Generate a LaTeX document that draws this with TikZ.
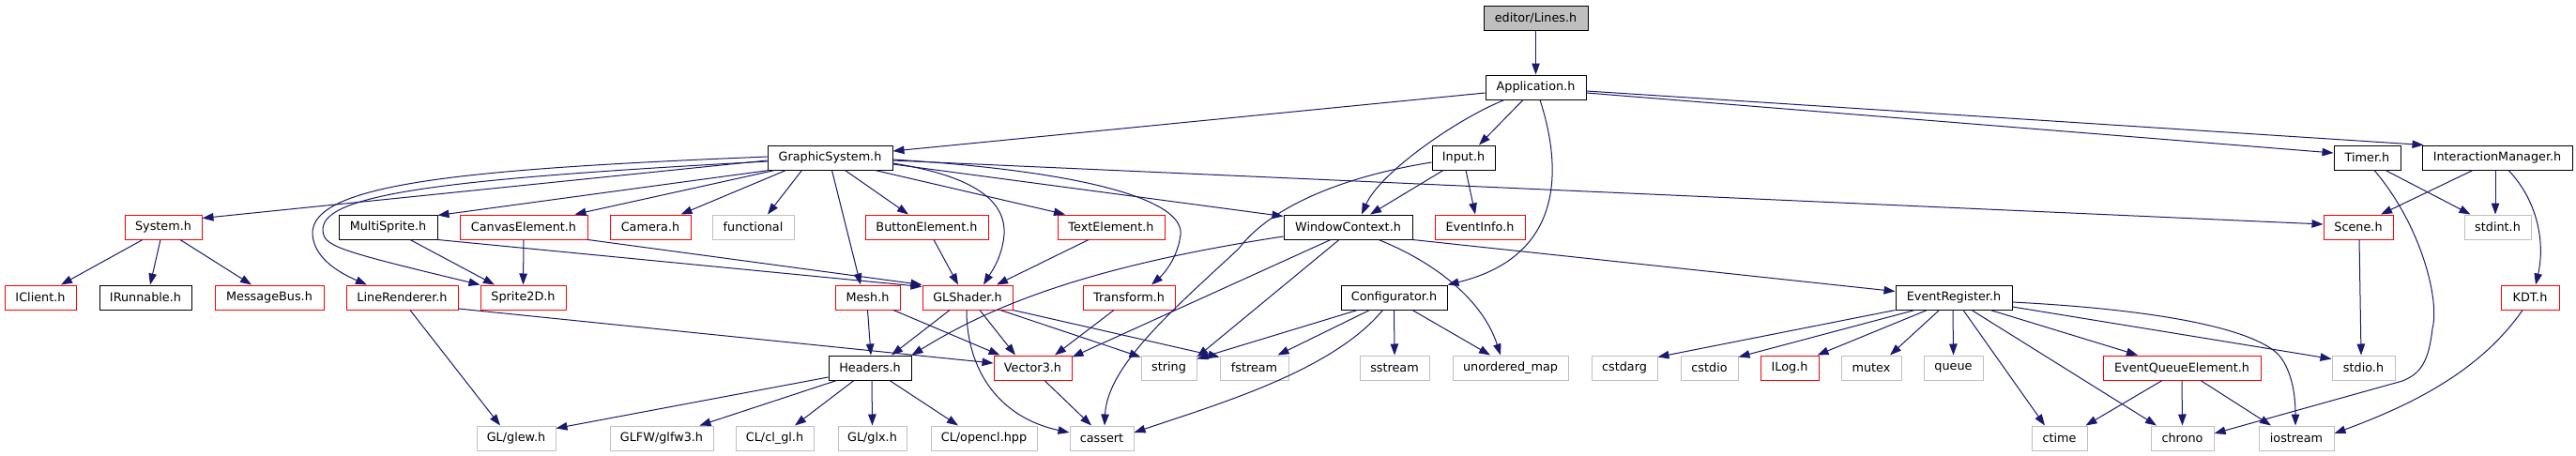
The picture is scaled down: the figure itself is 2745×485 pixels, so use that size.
\documentclass[tikz,border=0pt]{standalone}
\usepackage{fontspec}
\setmainfont{DejaVu Sans}
\usetikzlibrary{arrows.meta}
\definecolor{edgeblue}{HTML}{191970}
\definecolor{greyf}{HTML}{BFBFBF}
\begin{document}
\begin{tikzpicture}[x=1pt,y=-1pt,
  nd/.style={rectangle, draw, fill=white, inner sep=0pt, minimum height=26pt, line width=1pt,
             font=\fontsize{12.8}{14}\selectfont},
  nb/.style={nd, draw=black},
  nr/.style={nd, draw=red},
  ng/.style={nd, draw=greyf},
  ed/.style={draw=edgeblue, line width=1pt, -{Triangle[length=12pt,width=8.5pt]}, fill=none}]
\fill[white] (0,0) rectangle (2745,485);
\useasboundingbox (0,0) rectangle (2745,485);
% row 0
\node[nb, fill=greyf, minimum width=111pt] (lines) at (1636.5,19) {editor/Lines.h};
% row 1
\node[nb, minimum width=107pt] (app) at (1636.5,93) {Application.h};
% row 2
\node[nb, minimum width=133pt] (gs) at (884.5,168) {GraphicSystem.h};
\node[nb, minimum width=67pt] (input) at (1559.5,168) {Input.h};
\node[nb, minimum width=71pt] (timer) at (2522.5,168) {Timer.h};
\node[nb, minimum width=160pt] (im) at (2661,168) {InteractionManager.h};
% row 3
\node[nr, minimum width=82pt] (system) at (174,242) {System.h};
\node[nb, minimum width=105pt] (multisprite) at (413.5,242) {MultiSprite.h};
\node[nr, minimum width=136pt] (canvas) at (558,242) {CanvasElement.h};
\node[nr, minimum width=86pt] (camera) at (693,242) {Camera.h};
\node[ng, minimum width=87pt] (functional) at (802.5,242) {functional};
\node[nr, minimum width=131pt] (button) at (987.5,242) {ButtonElement.h};
\node[nr, minimum width=114pt] (text) at (1184,242) {TextElement.h};
\node[nb, minimum width=137pt] (wc) at (1436.5,242) {WindowContext.h};
\node[nr, minimum width=96pt] (eventinfo) at (1577,242) {EventInfo.h};
\node[nr, minimum width=74pt] (scene) at (2513,242) {Scene.h};
\node[ng, minimum width=71pt] (stdint) at (2661.5,242) {stdint.h};
% row 4
\node[nr, minimum width=76pt] (iclient) at (43,317) {IClient.h};
\node[nb, minimum width=98pt] (irunnable) at (155,317) {IRunnable.h};
\node[nr, minimum width=116pt] (msgbus) at (287,317) {MessageBus.h};
\node[nr, minimum width=119pt] (linerend) at (428.5,317) {LineRenderer.h};
\node[nr, minimum width=91pt] (sprite2d) at (557.5,317) {Sprite2D.h};
\node[nr, minimum width=69pt] (mesh) at (924.5,317) {Mesh.h};
\node[nr, minimum width=96pt] (glshader) at (1031,317) {GLShader.h};
\node[nr, minimum width=98pt] (transform) at (1203,317) {Transform.h};
\node[nb, minimum width=113pt] (config) at (1485.5,317) {Configurator.h};
\node[nb, minimum width=124pt] (evreg) at (2082,317) {EventRegister.h};
\node[nr, minimum width=62pt] (kdt) at (2696,317) {KDT.h};
% row 5
\node[nb, minimum width=88pt] (headers) at (927,392) {Headers.h};
\node[nr, minimum width=83pt] (vector3) at (1100.5,392) {Vector3.h};
\node[ng, minimum width=59pt] (string) at (1245.5,392) {string};
\node[ng, minimum width=73pt] (fstream) at (1336.5,392) {fstream};
\node[ng, minimum width=74pt] (sstream) at (1486,392) {sstream};
\node[ng, minimum width=123pt] (umap) at (1609.5,392) {unordered\_map};
\node[ng, minimum width=70pt] (cstdarg) at (1731,392) {cstdarg};
\node[ng, minimum width=61pt] (cstdio) at (1821.5,392) {cstdio};
\node[nr, minimum width=62pt] (ilog) at (1907,392) {ILog.h};
\node[ng, minimum width=64pt] (mutex) at (1994,392) {mutex};
\node[ng, minimum width=63pt] (queue) at (2081.5,392) {queue};
\node[nr, minimum width=168pt] (eqe) at (2325,392) {EventQueueElement.h};
\node[ng, minimum width=67pt] (stdio) at (2518.5,392) {stdio.h};
% row 6
\node[ng, minimum width=84pt] (glew) at (550,467) {GL/glew.h};
\node[ng, minimum width=110pt] (glfw) at (705,467) {GLFW/glfw3.h};
\node[ng, minimum width=83pt] (clgl) at (825.5,467) {CL/cl\_gl.h};
\node[ng, minimum width=73pt] (glx) at (929.5,467) {GL/glx.h};
\node[ng, minimum width=113pt] (opencl) at (1048.5,467) {CL/opencl.hpp};
\node[ng, minimum width=68pt] (cassert) at (1174,467) {cassert};
\node[ng, minimum width=59pt] (ctime) at (2194.5,467) {ctime};
\node[ng, minimum width=67pt] (chrono) at (2325.5,467) {chrono};
\node[ng, minimum width=80pt] (iostream) at (2447,467) {iostream};

% ---- edges ----
\draw[ed] (lines.south) -- (app.north);
\draw[ed] ([yshift=-6pt]app.west) -- ([yshift=7pt]gs.east);
\draw[ed] ([xshift=-13.5pt]app.south) -- ([xshift=16.5pt]input.north);
\draw[ed] ([xshift=-33.5pt]app.south) .. controls (1550,128) and (1470,185) .. ([xshift=14.5pt]wc.north);
\draw[ed] ([xshift=4.5pt]app.south) .. controls (1668,190) and (1660,275) .. (config.north east);
\draw[ed] ([yshift=-6pt]app.east) -- ([yshift=5pt]timer.west);
\draw[ed] ([yshift=-4pt]app.east) -- ([xshift=2pt]im.north west);

\draw[ed] ([yshift=-3pt]gs.west) -- ([yshift=-4pt]system.north east);
\draw[ed] ([yshift=1pt]gs.west) .. controls (500,180) and (330,195) .. (333,250) .. controls (335,275) and (360,290) .. ([xshift=-37.5pt]linerend.north);
\draw[ed] ([yshift=-4pt]gs.west) .. controls (490,190) and (343,205) .. (344,245) .. controls (345,262) and (355,266) .. (sprite2d.north west);
\draw[ed] ([xshift=2pt]gs.south west) -- ([yshift=-1pt]multisprite.north east);
\draw[ed] ([xshift=8pt]gs.south west) -- ([xshift=-14pt]canvas.north east);
\draw[ed] ([xshift=20pt]gs.south west) -- ([xshift=-11pt]camera.north east);
\draw[ed] ([xshift=37pt]gs.south west) -- ([xshift=15.5pt]functional.north);
\draw[ed] ([xshift=69pt]gs.south west) -- ([xshift=-7.5pt]mesh.north);
\draw[ed] ([xshift=83pt]gs.south west) -- ([xshift=-19.5pt]button.north);
\draw[ed] ([yshift=-6pt]gs.east) .. controls (1040,188) and (1072,215) .. (1070,250) .. controls (1068,275) and (1055,292) .. ([xshift=17pt]glshader.north);
\draw[ed] ([xshift=-19pt]gs.south east) -- ([xshift=-49pt]text.north);
\draw[ed] ([yshift=-2pt]gs.east) .. controls (1150,182) and (1262,212) .. (1258,250) .. controls (1255,275) and (1240,292) .. ([xshift=24pt]transform.north);
\draw[ed] ([yshift=-7pt]gs.east) -- ([yshift=-2pt]wc.north west);
\draw[ed] ([yshift=-3pt]gs.east) -- ([yshift=3pt]scene.west);

\draw[ed] ([xshift=-21.5pt]input.south) -- ([xshift=23.5pt]wc.north);
\draw[ed] ([xshift=2.5pt]input.south) -- ([xshift=-5pt]eventinfo.north);
\draw[ed] ([yshift=-5pt]input.west) .. controls (1420,190) and (1350,225) .. (1320,265) .. controls (1250,330) and (1180,390) .. ([xshift=3pt]cassert.north);

\draw[ed] ([yshift=-10pt]wc.west) .. controls (1150,285) and (1050,330) .. (headers.north east);
\draw[ed] ([xshift=-18.5pt]wc.south) -- ([yshift=-2pt]vector3.north east);
\draw[ed] ([xshift=-9.5pt]wc.south) -- ([yshift=-2pt]string.north east);
\draw[ed] ([xshift=32.5pt]wc.south) .. controls (1530,280) and (1580,320) .. ([xshift=-10.5pt]umap.north);
\draw[ed] (wc.south east) -- ([yshift=-7pt]evreg.north west);

\draw[ed] ([xshift=18pt]config.south west) -- ([yshift=-4pt]string.north east);
\draw[ed] ([xshift=31pt]config.south west) -- ([xshift=-12pt]fstream.north east);
\draw[ed] ([xshift=45pt]config.south west) .. controls (1420,395) and (1300,430) .. ([yshift=6pt]cassert.east);
\draw[ed] (config.south) -- (sstream.north);
\draw[ed] ([xshift=19.5pt]config.south) -- ([xshift=-21.5pt]umap.north);

\draw[ed] (evreg.south west) -- ([yshift=-2pt]cstdarg.north east);
\draw[ed] ([xshift=21pt]evreg.south west) -- ([yshift=-2pt]cstdio.north east);
\draw[ed] ([xshift=34pt]evreg.south west) -- ([xshift=-2pt]ilog.north east);
\draw[ed] ([xshift=47pt]evreg.south west) -- ([xshift=20pt]mutex.north);
\draw[ed] ([xshift=-1pt]evreg.south) -- (queue.north);
\draw[ed] ([xshift=10pt]evreg.south) -- ([xshift=-15.5pt]ctime.north);
\draw[ed] ([xshift=19pt]evreg.south) -- ([xshift=-27.5pt]chrono.north);
\draw[ed] ([xshift=39pt]evreg.south) -- ([xshift=-47pt]eqe.north);
\draw[ed] ([yshift=-10pt]evreg.east) -- ([yshift=-4pt]stdio.north west);
\draw[ed] ([yshift=-5pt]evreg.east) .. controls (2300,330) and (2400,350) .. (2428,378) .. controls (2445,398) and (2446,430) .. ([xshift=-1pt]iostream.north);

\draw[ed] ([xshift=-21pt]eqe.south) -- ([xshift=-2pt]ctime.north east);
\draw[ed] (eqe.south) -- (chrono.north);
\draw[ed] ([xshift=20pt]eqe.south) -- ([xshift=-27pt]iostream.north);

\draw[ed] ([xshift=1pt]scene.south) -- ([xshift=-2.5pt]stdio.north);
\draw[ed] ([xshift=19.5pt]timer.south) -- ([xshift=7pt]stdint.north west);
\draw[ed] ([xshift=7.5pt]timer.south) .. controls (2580,240) and (2600,320) .. (2592,350) .. controls (2588,385) and (2580,398) .. (2560,406) -- ([yshift=5pt]chrono.east);
\draw[ed] ([xshift=-26pt]im.south) -- ([xshift=24pt]scene.north);
\draw[ed] ([xshift=-2pt]im.south) -- ([xshift=-2.5pt]stdint.north);
\draw[ed] ([xshift=12pt]im.south) .. controls (2705,215) and (2712,260) .. ([xshift=6pt]kdt.north);
\draw[ed] ([xshift=-8pt]kdt.south) .. controls (2640,400) and (2560,435) .. ([yshift=5pt]iostream.east);

\draw[ed] ([xshift=-22pt]system.south) -- ([xshift=22pt]iclient.north);
\draw[ed] ([xshift=-3pt]system.south) -- ([xshift=5pt]irunnable.north);
\draw[ed] ([xshift=18pt]system.south) -- ([xshift=-19pt]msgbus.north);

\draw[ed] ([xshift=23.5pt]multisprite.south) -- ([xshift=-30.5pt]sprite2d.north);
\draw[ed] (multisprite.south east) -- ([yshift=-2pt]glshader.north west);
\draw[ed] (canvas.south) -- (sprite2d.north);
\draw[ed] (canvas.south east) -- (glshader.north west);
\draw[ed] ([xshift=7.5pt]button.south) -- ([xshift=-10pt]glshader.north);
\draw[ed] ([xshift=-24pt]text.south) -- ([xshift=31pt]glshader.north);
\draw[ed] ([xshift=-16pt]transform.south) -- ([xshift=23.5pt]vector3.north);
\draw[ed] (mesh.south) -- ([xshift=1pt]headers.north);
\draw[ed] ([xshift=27.5pt]mesh.south) -- ([xshift=7pt]vector3.north west);
\draw[ed] ([xshift=-19pt]glshader.south) -- ([xshift=23pt]headers.north);
\draw[ed] ([xshift=13pt]glshader.south) -- ([xshift=-18.5pt]vector3.north);
\draw[ed] ([xshift=35pt]glshader.south) -- ([yshift=-2pt]string.north west);
\draw[ed] (glshader.south east) -- ([yshift=-2pt]fstream.north west);
\draw[ed] ([xshift=-1pt]glshader.south) .. controls (1030,395) and (1065,445) .. ([yshift=6pt]cassert.west);
\draw[ed] ([xshift=12.5pt]vector3.south) -- ([xshift=-11pt]cassert.north);
\draw[ed] ([xshift=8.5pt]linerend.south) -- ([xshift=-17pt]glew.north);
\draw[ed] ([yshift=-12pt]linerend.east) -- ([yshift=5pt]vector3.west);

\draw[ed] ([yshift=-10pt]headers.west) -- ([yshift=-3pt]glew.north east);
\draw[ed] ([xshift=9pt]headers.south west) -- ([xshift=-15pt]glfw.north east);
\draw[ed] ([xshift=-17pt]headers.south) -- ([xshift=21.5pt]clgl.north);
\draw[ed] ([xshift=2pt]headers.south) -- (glx.north);
\draw[ed] ([xshift=21pt]headers.south) -- ([xshift=-27.5pt]opencl.north);
\end{tikzpicture}
\end{document}
